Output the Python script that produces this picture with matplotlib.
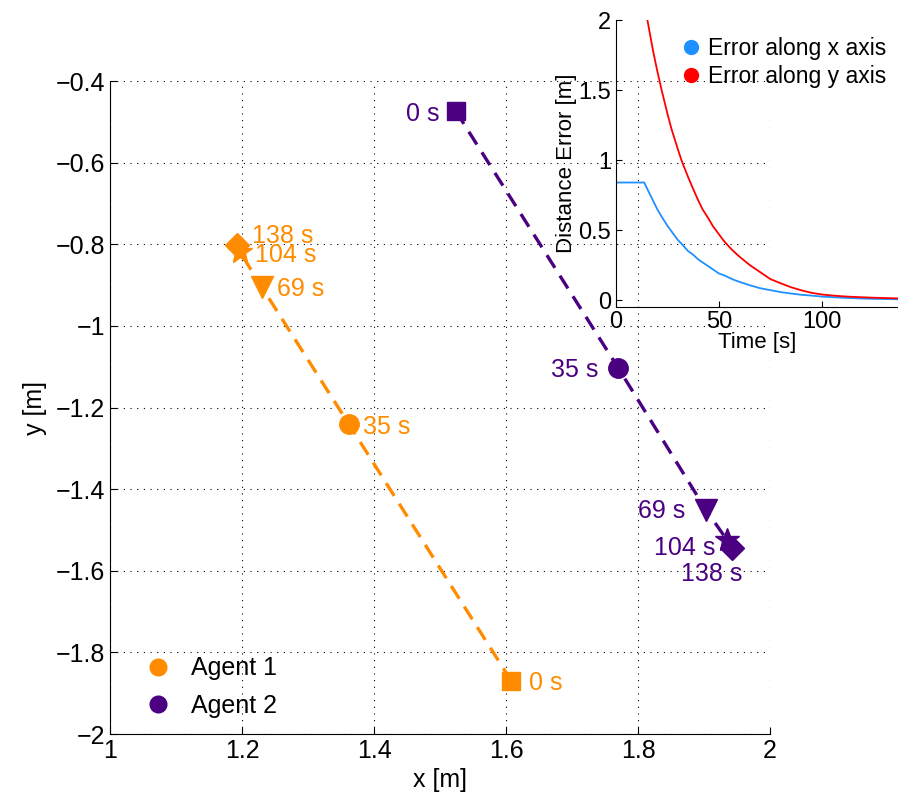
import numpy as np
import matplotlib.pyplot as plt
from matplotlib.lines import Line2D
from matplotlib.ticker import FuncFormatter

plt.rcParams['font.family'] = ['Liberation Sans', 'DejaVu Sans']
plt.rcParams['xtick.direction'] = 'in'
plt.rcParams['ytick.direction'] = 'in'

# trajectory snapshots (x [m], y [m]) at the labelled times
times = ['0 s', '35 s', '69 s', '104 s', '138 s']
agent1_x = [1.608, 1.362, 1.230, 1.197, 1.192]
agent1_y = [-1.870, -1.241, -0.905, -0.819, -0.802]
agent2_x = [1.524, 1.770, 1.903, 1.935, 1.942]
agent2_y = [-0.474, -1.103, -1.451, -1.525, -1.543]

# inset: distance error over time
err_t = [0, 13.7, 15, 17, 18, 20, 22, 25, 27, 30, 32, 35, 37, 40, 42, 45, 47, 50,
         52, 55, 57, 60, 65, 70, 75, 80, 85, 90, 95, 100, 105, 110, 115, 120, 125,
         130, 137]
err_x = [0.84, 0.84, 0.80, 0.74, 0.71, 0.65, 0.60, 0.53, 0.49, 0.43, 0.40, 0.35,
         0.33, 0.29, 0.27, 0.24, 0.22, 0.19, 0.18, 0.16, 0.146, 0.13, 0.106, 0.085,
         0.071, 0.057, 0.047, 0.038, 0.032, 0.025, 0.021, 0.017, 0.014, 0.011,
         0.009, 0.008, 0.006]
err_y = [2.13, 2.13, 2.02, 1.86, 1.78, 1.64, 1.51, 1.33, 1.22, 1.08, 0.99, 0.88,
         0.81, 0.71, 0.65, 0.58, 0.53, 0.47, 0.43, 0.38, 0.35, 0.31, 0.25, 0.20,
         0.15, 0.12, 0.092, 0.07, 0.052, 0.04, 0.033, 0.027, 0.023, 0.02, 0.017,
         0.015, 0.012]

ORANGE = '#FF8C00'
PURPLE = '#4B0082'
markers = ['s', 'o', 'v', '*', 'D']
msizes = [13, 14, 16, 18, 12]

# label offsets in pixels (dx, dy, ha)
off1 = [(18, 0, 'left'), (14, 0, 'left'), (15, 1, 'left'), (15, 0, 'left'), (15, 12, 'left')]
off2 = [(-16, 0, 'right'), (-20, 0, 'right'), (-21, 1, 'right'), (-12, -5, 'right'), (-20, -24, 'center')]

fig = plt.figure(figsize=(8.98, 8.06), dpi=100)
ax = fig.add_axes([0.1225, 0.0893, 0.735, 0.8102])

def plot_agent(xs, ys, color, offs):
    ax.plot(xs, ys, '--', color=color, lw=2.4, dashes=(4.5, 2.8), zorder=2)
    for i in range(len(xs)):
        ax.plot(xs[i], ys[i], marker=markers[i], ms=msizes[i], color=color,
                mec=color, ls='none', zorder=3)
        dx, dy, ha = offs[i]
        ax.annotate(times[i], (xs[i], ys[i]), xytext=(dx * 0.72, dy * 0.72),
                    textcoords='offset points', ha=ha, va='center_baseline',
                    fontsize=18, color=color)

plot_agent(agent1_x, agent1_y, ORANGE, off1)
plot_agent(agent2_x, agent2_y, PURPLE, off2)

ax.set_xlim(1, 2)
ax.set_ylim(-2, -0.4)
ax.set_xticks(np.arange(1, 2.01, 0.2))
ax.set_yticks(np.arange(-2, -0.39, 0.2))
fmt = FuncFormatter(lambda v, p: ('%g' % round(v, 2)).replace('-', '\u2212'))
ax.xaxis.set_major_formatter(fmt)
ax.yaxis.set_major_formatter(fmt)
ax.tick_params(labelsize=18, length=5, top=False, right=False)
ax.grid(True, color='black', linestyle=(0, (1, 5)), lw=0.8)
ax.spines['top'].set_visible(False)
ax.spines['right'].set_visible(False)
ax.set_xlabel('x [m]', fontsize=18, labelpad=4)
ax.set_ylabel('y [m]', fontsize=18, labelpad=6)

h = [Line2D([], [], marker='o', ls='none', color=ORANGE, ms=12),
     Line2D([], [], marker='o', ls='none', color=PURPLE, ms=12)]
ax.legend(h, ['Agent 1', 'Agent 2'], loc='lower left', frameon=False, fontsize=18,
          handletextpad=0.35, labelspacing=0.55, bbox_to_anchor=(0.0, -0.01))

# inset
ins = fig.add_axes([0.686, 0.619, 0.314, 0.356])
ins.patch.set_alpha(0)
ins.plot(err_t, err_x, color='#1E90FF', lw=1.3)
ins.plot(err_t, err_y, color='red', lw=1.3)
ins.set_xlim(0, 137)
ins.set_ylim(-0.05, 2)
ins.set_xticks([0, 50, 100])
ins.set_yticks([0, 0.5, 1, 1.5, 2])
ins.xaxis.set_major_formatter(fmt)
ins.yaxis.set_major_formatter(fmt)
ins.tick_params(labelsize=17, length=4, top=False, right=False)
ins.tick_params(axis='x', pad=3)
ins.spines['top'].set_visible(False)
ins.spines['right'].set_visible(False)
ins.set_xlabel('Time [s]', fontsize=16, labelpad=-1)
ins.set_ylabel('Distance Error [m]', fontsize=16, labelpad=1)
h2 = [Line2D([], [], marker='o', ls='none', color='#1E90FF', ms=10),
      Line2D([], [], marker='o', ls='none', color='red', ms=10)]
ins.legend(h2, ['Error along x axis', 'Error along y axis'], loc='upper right',
           frameon=False, fontsize=16.5, handletextpad=0.35, labelspacing=0.2,
           borderaxespad=0.1, handlelength=0.8, bbox_to_anchor=(1.0, 0.98))

fig.savefig('out.png', dpi=100)
